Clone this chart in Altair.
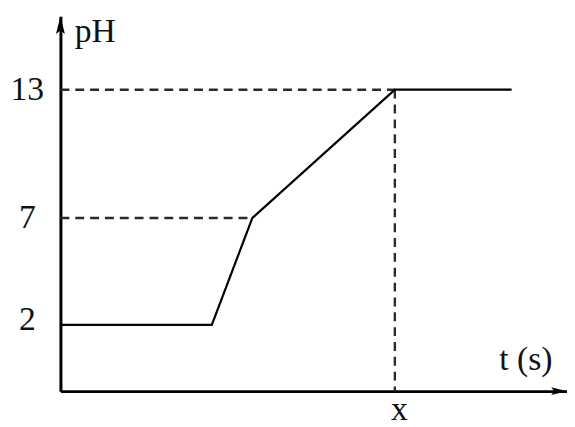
import altair as alt
import pandas as pd

# ---- data ----
t_vals = [0, 15.3, 19.4, 33.8, 45.6]      # time (arbitrary units)
ph_vals = [2, 2, 7, 13, 13]               # pH along the curve
ph_ticks = [2, 7, 13]                     # labelled pH values
x_time = 33.8                             # the time labelled "x"

# dashed guide lines: (t, t2, pH, pH2)
guide_t = [0, 0, x_time]
guide_t2 = [19.4, x_time, x_time]
guide_ph = [7, 13, 13]

T_MAX = 51.2
Y_MIN, Y_MAX = -1.1, 16.44
guide_ph2 = [7, 13, Y_MIN]

curve = pd.DataFrame({"t": t_vals, "ph": ph_vals})
guides = pd.DataFrame({"t": guide_t, "t2": guide_t2, "ph": guide_ph, "ph2": guide_ph2})
arrow_up = pd.DataFrame({"t": [0], "ph": [Y_MAX]})
arrow_right = pd.DataFrame({"t": [T_MAX], "ph": [Y_MIN]})

FONT = "Liberation Serif"
FS = 34

x_axis = alt.Axis(
    values=[x_time], labelExpr="'x'", ticks=False, tickSize=0, grid=False,
    domainColor="black", domainWidth=3,
    labelFont=FONT, labelFontSize=FS, labelColor="#111111", labelPadding=29,
    labelBaseline="alphabetic", labelOffset=4, labelFlush=False,
    title="t (s)", titleFont=FONT, titleFontSize=FS, titleFontWeight="normal",
    titleColor="#111111", titleAlign="center", titleBaseline="alphabetic",
    titleX=470, titleY=-22, titleAngle=0,
)
y_axis = alt.Axis(
    values=ph_ticks, ticks=False, tickSize=0, grid=False,
    domainColor="black", domainWidth=3,
    labelFont=FONT, labelFontSize=FS, labelColor="#111111", labelPadding=34,
    labelAlign="center", labelBaseline="middle", labelFlush=False,
    labelOffset={"condition": {"test": "datum.value == 2", "value": -5}, "value": 0},
    title="pH", titleFont=FONT, titleFontSize=FS, titleFontWeight="normal",
    titleColor="#111111", titleAlign="left", titleBaseline="alphabetic",
    titleX=14, titleY=26, titleAngle=0,
)

x_scale = alt.Scale(domain=[0, T_MAX], nice=False, zero=False)
y_scale = alt.Scale(domain=[Y_MIN, Y_MAX], nice=False, zero=False)

X = alt.X("t:Q", scale=x_scale, axis=x_axis)
Y = alt.Y("ph:Q", scale=y_scale, axis=y_axis)

line = alt.Chart(curve).mark_line(color="black", strokeWidth=2.2).encode(x=X, y=Y)

dashed = alt.Chart(guides).mark_rule(
    color="#2a2a2a", strokeWidth=2.4, strokeDash=[9, 6]
).encode(x=X, x2="t2:Q", y=Y, y2="ph2:Q")

up_path = "M0,0 L0.5,2 L0,1.6 L-0.5,2 Z"
right_path = "M0,0 L-2,0.5 L-1.6,0 L-2,-0.5 Z"

arr_up = alt.Chart(arrow_up).mark_point(
    shape=up_path, filled=True, size=324, color="black", opacity=1
).encode(x=X, y=Y)
arr_right = alt.Chart(arrow_right).mark_point(
    shape=right_path, filled=True, size=256, color="black", opacity=1
).encode(x=X, y=Y)

chart = alt.layer(dashed, line, arr_up, arr_right).properties(
    width=512, height=379,
    autosize=alt.AutoSizeParams(type="none"),
    padding={"left": 53, "top": 6, "right": 0, "bottom": 34},
    background="white",
).configure_view(stroke=None)

chart.save("out.html", embed_options={"renderer": "svg", "actions": False})
